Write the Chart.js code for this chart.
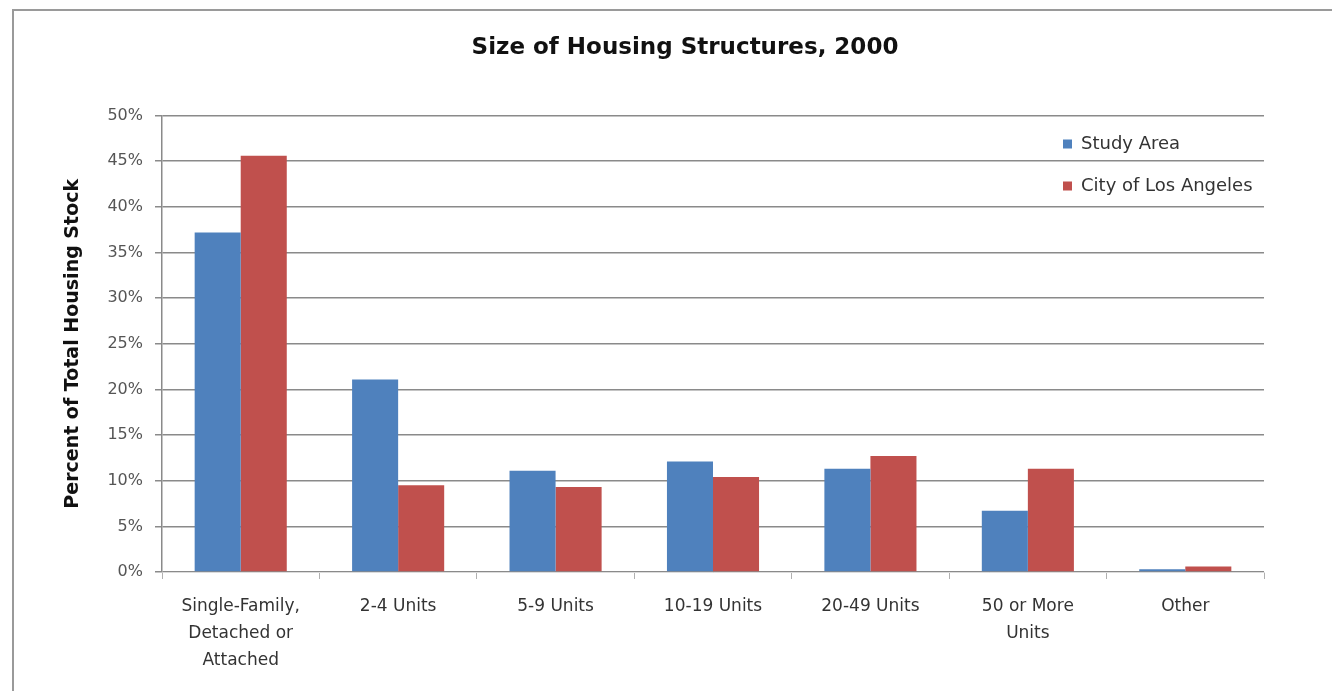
<!DOCTYPE html>
<html>
<head>
	<title> Size of Housing Structures, 2000 </title>
	<script src="https://cdn.jsdelivr.net/npm/chart.js@4.4.0/dist/chart.umd.min.js"></script>
	<style>
		body { margin: 0; background: #fff; overflow: hidden; }
		#wrap { position: relative; width: 1332px; height: 691px; overflow: hidden; }
		#frame { position: absolute; left: 12px; top: 9px; width: 1400px; height: 800px; border-top: 2px solid #9a9a9a; border-left: 2px solid #9a9a9a; }
		#canvas { position: absolute; left: 0; top: 0; }
	</style>
</head>
<body>
	<div id="wrap">
		<div id="frame"></div>
		<canvas id="canvas" width="1332" height="691"></canvas>
	</div>
	<script type="text/javascript">

		var categories = [
			['Single-Family,', 'Detached or', 'Attached'],
			'2-4 Units',
			'5-9 Units',
			'10-19 Units',
			'20-49 Units',
			['50 or More', 'Units'],
			'Other'
		];
		var studyArea = [37.2, 21.1, 11.1, 12.1, 11.3, 6.7, 0.3];
		var cityOfLA = [45.6, 9.5, 9.3, 10.4, 12.7, 11.3, 0.6];
		var yTicks = [0, 5, 10, 15, 20, 25, 30, 35, 40, 45, 50];

		// legend sits inside the plot, top right; title nudged right
		var placeBoxes = {
			id: 'placeBoxes',
			afterLayout: function(chart) {
				var lg = chart.legend;
				lg.left = 1039;
				lg.right = lg.left + lg.width;
				lg.top = 111;
				lg.bottom = lg.top + lg.height;
				var tb = chart.titleBlock;
				tb.left += 24;
				tb.right += 24;
			}
		};

		window.onload = function() {
			var ctx = document.getElementById('canvas').getContext('2d');
			new Chart(ctx, {
				type: 'bar',
				data: {
					labels: categories,
					datasets: [{
						label: 'Study Area',
						backgroundColor: '#4F81BD',
						data: studyArea
					},{
						label: 'City of Los Angeles',
						backgroundColor: '#C0504D',
						data: cityOfLA
					}]
				},
				plugins: [placeBoxes],
				options: {
					responsive: false,
					animation: false,
					datasets: {
						bar: { barPercentage: 1, categoryPercentage: 0.585 }
					},
					layout: { padding: { left: 58, right: 68, top: 0, bottom: 0 } },
					plugins: {
						title: {
							display: true,
							text: 'Size of Housing Structures, 2000',
							color: '#111',
							font: { family: 'DejaVu Sans', size: 23, weight: 'bold' },
							padding: { top: 34, bottom: 54 }
						},
						legend: {
							position: 'chartArea',
							align: 'start',
							labels: {
								boxWidth: 9,
								boxHeight: 9,
								padding: 24,
								color: '#333',
								font: { family: 'DejaVu Sans', size: 18 }
							}
						},
						tooltip: { enabled: false }
					},
					scales: {
						x: {
							grid: { offset: true, drawOnChartArea: false, tickLength: 7, color: '#b0b0b0' },
							border: { color: '#dcdcdc' },
							ticks: {
								color: '#333',
								padding: 14,
								maxRotation: 0,
								font: { family: 'DejaVu Sans', size: 17, lineHeight: 1.6 }
							},
							afterFit: function(scale) { scale.height = 691 - 572; }
						},
						y: {
							min: 0,
							max: 50,
							afterBuildTicks: function(scale) {
								scale.ticks = yTicks.map(function(v) { return { value: v }; });
							},
							grid: { color: '#8a8a8a', lineWidth: 1.5, tickLength: 7 },
							border: { color: '#8a8a8a', width: 1.5 },
							ticks: {
								color: '#555',
								padding: 12,
								font: { family: 'DejaVu Sans', size: 16 },
								callback: function(v) { return v + '%'; }
							},
							title: {
								display: true,
								text: 'Percent of Total Housing Stock',
								color: '#111',
								font: { family: 'DejaVu Sans', size: 19, weight: 'bold' }
							},
							afterFit: function(scale) { scale.width = 162 - 58; }
						}
					}
				}
			});
		};
	</script>
</body>
</html>
